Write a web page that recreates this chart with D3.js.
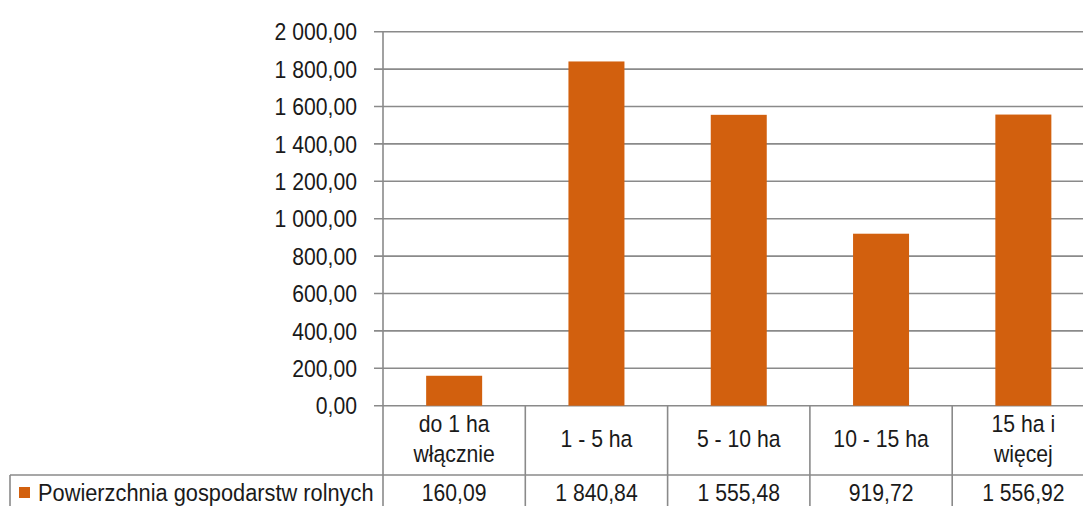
<!DOCTYPE html>
<html><head><meta charset="utf-8">
<script src="https://cdn.jsdelivr.net/npm/d3@7"></script>
<style>
html,body{margin:0;padding:0;background:#fff;}
svg text{font-family:"Liberation Sans",Arial,sans-serif;fill:#1a1a1a;}
</style></head>
<body>
<svg id="chart" width="1083" height="506"></svg>
<script>
const categories = [["do 1 ha","włącznie"],["1 - 5 ha"],["5 - 10 ha"],["10 - 15 ha"],["15 ha i","więcej"]];
const values = [160.09, 1840.84, 1555.48, 919.72, 1556.92];
const valueLabels = ["160,09","1 840,84","1 555,48","919,72","1 556,92"];
const seriesName = "Powierzchnia gospodarstw rolnych";
const yTicks = [0,200,400,600,800,1000,1200,1400,1600,1800,2000];
const yTickLabels = ["0,00","200,00","400,00","600,00","800,00","1 000,00","1 200,00","1 400,00","1 600,00","1 800,00","2 000,00"];

const svg = d3.select("#chart");
const plotLeft = 383, plotRight = 1094.5, plotTop = 31.7, zeroY = 405.7;
const row1 = 475, bottomY = 510;
const grid = "#8a8a8a", barColor = "#D2600E";
const fs = 21.2, sy = 1.1;

const x = d3.scaleBand().domain(d3.range(categories.length)).range([plotLeft, plotRight]).padding(0);
const y = d3.scaleLinear().domain([0, 2000]).range([zeroY, plotTop]);

// text helper: centered vertically on (cx, cy), stretched vertically
function label(g, cx, cy, str, anchor, size){
  return g.append("text").attr("transform",`translate(${cx},${cy}) scale(1,${sy})`)
    .attr("x",0).attr("y",0).attr("dy","0.35em").attr("text-anchor",anchor||"middle")
    .style("font-size",(size||fs)+"px").text(str);
}

// gridlines + tick labels
const yAxis = d3.axisLeft(y).tickValues(yTicks).tickSize(0).tickFormat((d,i)=>yTickLabels[i]);
const ga = svg.append("g").attr("transform",`translate(${plotLeft},0)`).call(yAxis);
ga.select(".domain").remove();
ga.selectAll("text").attr("x",null).attr("dy","0.35em")
  .attr("transform",`translate(-26,0) scale(1,${sy})`)
  .style("font-size",fs+"px").style("font-family","'Liberation Sans',Arial,sans-serif").attr("fill","#1a1a1a");
svg.append("g").selectAll("line").data(yTicks).join("line")
  .attr("x1",plotLeft-9).attr("x2",1090).attr("y1",d=>y(d)).attr("y2",d=>y(d))
  .attr("stroke",grid).attr("stroke-width",1.6);

// bars
const bw = 56;
svg.append("g").selectAll("rect").data(values).join("rect")
  .attr("x",(d,i)=>x(i)+x.bandwidth()/2-bw/2).attr("width",bw)
  .attr("y",d=>y(d)).attr("height",d=>zeroY-y(d)).attr("fill",barColor);

// axis line (vertical) and table lines
svg.append("line").attr("x1",plotLeft).attr("x2",plotLeft).attr("y1",plotTop).attr("y2",bottomY).attr("stroke",grid).attr("stroke-width",1.6);
svg.append("g").selectAll("line").data(d3.range(1,categories.length+1)).join("line")
  .attr("x1",i=>x(i-1)+x.step()).attr("x2",i=>x(i-1)+x.step())
  .attr("y1",zeroY).attr("y2",bottomY).attr("stroke",grid).attr("stroke-width",1.6);
svg.append("line").attr("x1",10).attr("x2",1090).attr("y1",row1).attr("y2",row1).attr("stroke",grid).attr("stroke-width",1.6);
svg.append("line").attr("x1",10).attr("x2",10).attr("y1",row1).attr("y2",bottomY).attr("stroke",grid).attr("stroke-width",1.6);

// category labels
const cgroup = svg.append("g");
categories.forEach((lines,i)=>{
  const cx = x(i)+x.bandwidth()/2;
  const mid = 439;
  lines.forEach((l,k)=>{
    const cy = lines.length===1 ? mid : mid + (k===0?-15:15);
    label(cgroup, cx, cy, l);
  });
});

// value row
const vgroup = svg.append("g");
valueLabels.forEach((v,i)=>label(vgroup, x(i)+x.bandwidth()/2, 493, v));

// legend key
svg.append("rect").attr("x",19).attr("y",487).attr("width",11).attr("height",11).attr("fill",barColor);
label(svg, 38, 493, seriesName, "start", 21.8);
</script>
</body></html>
